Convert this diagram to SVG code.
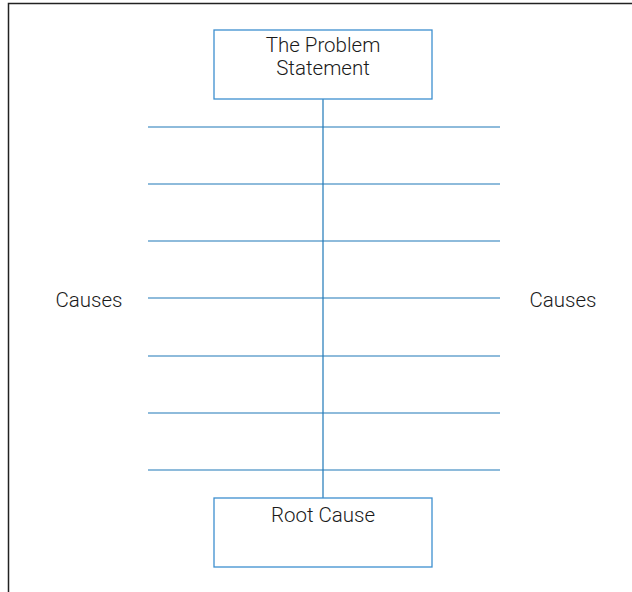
<svg xmlns="http://www.w3.org/2000/svg" width="632" height="592" viewBox="0 0 632 592">
  <style>
    .frame { fill: none; stroke: #222; stroke-width: 1.5; }
    .box { fill: #fff; stroke: #3d8fcf; stroke-width: 1.3; }
    .line { stroke: #1f78b8; stroke-width: 1.2; fill: none; }
    .label { font-family: Roboto, "Liberation Sans", sans-serif; font-weight: 300; font-size: 20.5px; fill: #1a1a1a; text-anchor: middle; }
  </style>
  <rect width="632" height="592" fill="#fff"/>
  <!-- page frame -->
  <path class="frame" d="M8.5,600 V3.5 H640"/>
  <!-- spine and cause ribs -->
  <g id="connectors">
    <line class="line" x1="323" y1="99" x2="323" y2="498"/>
    <line class="line" x1="148" y1="127" x2="500" y2="127"/>
    <line class="line" x1="148" y1="184" x2="500" y2="184"/>
    <line class="line" x1="148" y1="241" x2="500" y2="241"/>
    <line class="line" x1="148" y1="298" x2="500" y2="298"/>
    <line class="line" x1="148" y1="356" x2="500" y2="356"/>
    <line class="line" x1="148" y1="413" x2="500" y2="413"/>
    <line class="line" x1="148" y1="470" x2="500" y2="470"/>
  </g>
  <g id="problem">
    <rect class="box" x="214" y="30" width="218" height="69"/>
    <text class="label" x="323" y="52">The Problem</text>
    <text class="label" x="323" y="75">Statement</text>
  </g>
  <g id="root-cause">
    <rect class="box" x="214" y="498" width="218" height="69"/>
    <text class="label" x="323" y="522">Root Cause</text>
  </g>
  <g id="causes-left">
    <text class="label" x="89" y="307">Causes</text>
  </g>
  <g id="causes-right">
    <text class="label" x="563" y="307">Causes</text>
  </g>
</svg>
